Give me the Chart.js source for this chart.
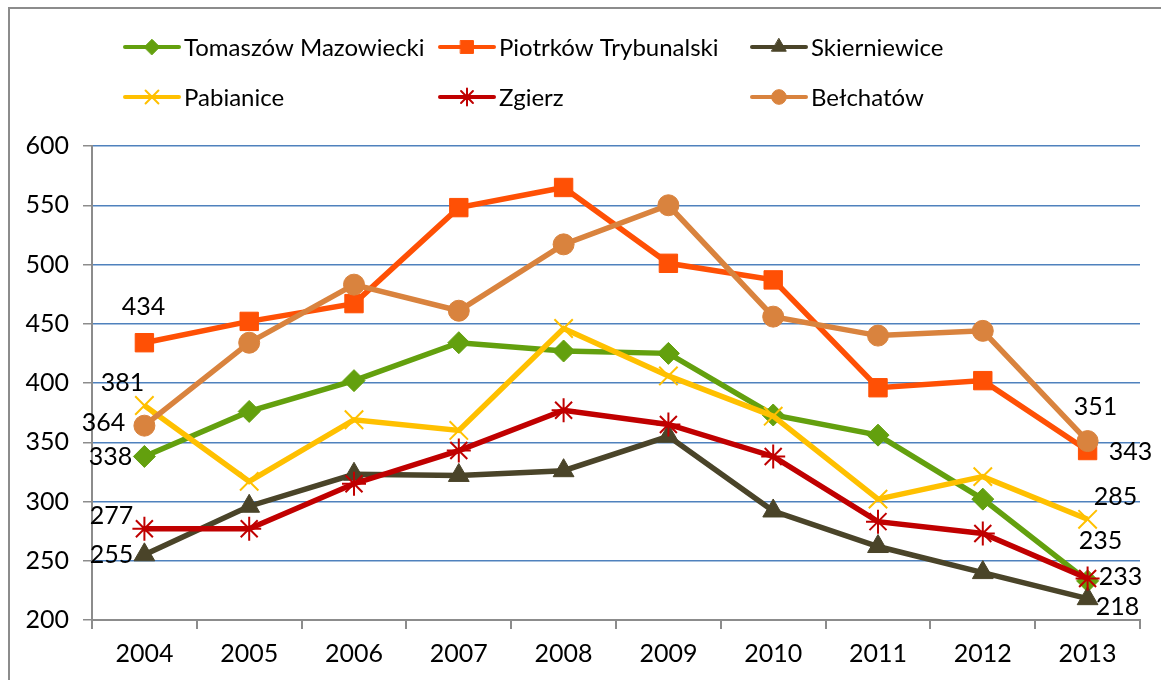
<!DOCTYPE html>
<html>
<head>
<meta charset="utf-8">
<script src="https://cdn.jsdelivr.net/npm/chart.js@4"></script>
<style>
  body { margin: 0; background: #fff; }
  #wrap { position: relative; width: 1161px; height: 680px; overflow: hidden; }
  #frame { position: absolute; left: 8px; top: 7px; width: 1160px; height: 700px; border: 2px solid #8c8c8c; box-sizing: border-box; }
  canvas { position: absolute; left: 0; top: 0; }
</style>
</head>
<body>
<div id="wrap">
  <div id="frame"></div>
  <canvas id="chart" width="1161" height="680"></canvas>
</div>
<script>
const years = ['2004', '2005', '2006', '2007', '2008', '2009', '2010', '2011', '2012', '2013'];

const tomaszow = [338, 376, 402, 434, 427, 425, 373, 356, 302, 233];
const piotrkow = [434, 452, 467, 548, 565, 501, 487, 396, 402, 343];
const skierniewice = [255, 296, 323, 322, 326, 355, 292, 262, 240, 218];
const pabianice = [381, 317, 369, 360, 446, 406, 372, 302, 321, 285];
const zgierz = [277, 277, 315, 343, 377, 365, 338, 283, 273, 235];
const belchatow = [364, 434, 483, 461, 517, 550, 456, 440, 444, 351];

const font = 'Lato, "Open Sans", sans-serif';

// where the first / last value labels sit relative to their point
const labelOffsets = [
    { first: [-34, 0], last: [33, -4] },    // Tomaszów
    { first: [-1, -36], last: [43, 1] },    // Piotrków
    { first: [-33, 0], last: [30, 8] },     // Skierniewice
    { first: [-22, -23], last: [28, -22] }, // Pabianice
    { first: [-33, -13], last: [13, -38] }, // Zgierz
    { first: [-41, -3], last: [8, -34] }    // Bełchatów
];

// legend placed in a 3 column grid like the original
const legendCols = [125, 440, 752];
const legendRows = [47, 97];

const extras = {
    id: 'extras',
    afterDatasetsDraw(chart) {
        const ctx = chart.ctx;
        ctx.save();
        ctx.font = '25px ' + font;
        ctx.fillStyle = '#000';
        ctx.textAlign = 'center';
        ctx.textBaseline = 'middle';
        chart.data.datasets.forEach((ds, i) => {
            const pts = chart.getDatasetMeta(i).data;
            const first = pts[0], last = pts[pts.length - 1];
            const o = labelOffsets[i];
            ctx.fillText(ds.data[0], first.x + o.first[0], first.y + o.first[1]);
            ctx.fillText(ds.data[ds.data.length - 1], last.x + o.last[0], last.y + o.last[1]);
        });
        ctx.restore();
    },
    afterDraw(chart) {
        const ctx = chart.ctx;
        ctx.save();
        ctx.font = '24px ' + font;
        ctx.textBaseline = 'middle';
        ctx.textAlign = 'left';
        chart.data.datasets.forEach((ds, i) => {
            const x = legendCols[i % 3];
            const y = legendRows[Math.floor(i / 3)];
            ctx.strokeStyle = ds.borderColor;
            ctx.lineWidth = 4;
            ctx.lineCap = 'round';
            ctx.beginPath();
            ctx.moveTo(x, y);
            ctx.lineTo(x + 54, y);
            ctx.stroke();
            ctx.fillStyle = ds.pointBackgroundColor;
            ctx.strokeStyle = ds.pointBorderColor;
            ctx.lineWidth = ds.pointBorderWidth;
            Chart.helpers.drawPoint(ctx, {
                pointStyle: ds.pointStyle,
                radius: ds.pointRadius * 0.7,
                rotation: 0,
                borderWidth: ds.pointBorderWidth
            }, x + 27, y);
            ctx.fillStyle = '#000';
            ctx.fillText(ds.label, x + 59, y + 1);
        });
        ctx.restore();
    }
};

let n = 0;
function series(label, data, color, style, radius, crossy) {
    n++;
    return {
        label: label,
        data: data,
        order: 10 - n, // later series sit on top, as in Excel
        borderColor: color,
        backgroundColor: color,
        borderWidth: 5.5,
        pointStyle: style,
        pointRadius: radius,
        pointHoverRadius: radius,
        pointBackgroundColor: color,
        pointBorderColor: color,
        pointBorderWidth: crossy ? 2 : 1,
        tension: 0
    };
}

new Chart(document.getElementById('chart'), {
    type: 'line',
    data: {
        labels: years,
        datasets: [
            series('Tomaszów Mazowiecki', tomaszow, '#63a00e', 'rectRot', 11, false),
            series('Piotrków Trybunalski', piotrkow, '#ff5005', 'rect', 13, false),
            series('Skierniewice', skierniewice, '#4a4429', 'triangle', 12, false),
            series('Pabianice', pabianice, '#ffc000', 'crossRot', 13, true),
            series('Zgierz', zgierz, '#c00000', 'star', 12, true),
            series('Bełchatów', belchatow, '#d9833e', 'circle', 10.5, false)
        ]
    },
    options: {
        responsive: false,
        animation: false,
        layout: { padding: { left: 0, top: 146, right: 21, bottom: 0 } },
        plugins: {
            legend: { display: false },
            tooltip: { enabled: false }
        },
        scales: {
            x: {
                offset: true,
                grid: {
                    offset: true,
                    drawOnChartArea: false,
                    drawTicks: true,
                    tickLength: 9,
                    color: '#8c8c8c',
                    lineWidth: 2
                },
                border: { color: '#8c8c8c', width: 2 },
                ticks: { color: '#000', font: { family: font, size: 25 }, padding: 10 },
                afterFit(s) { s.height = 60; }
            },
            y: {
                min: 200,
                max: 600,
                ticks: { stepSize: 50, color: '#000', font: { family: font, size: 25 }, padding: 14 },
                grid: { color: '#4f81bd', lineWidth: 1.5, tickLength: 9, tickColor: '#8c8c8c' },
                border: { color: '#8c8c8c', width: 2 },
                afterFit(s) { s.width = 92; }
            }
        }
    },
    plugins: [extras]
});
</script>
</body>
</html>
